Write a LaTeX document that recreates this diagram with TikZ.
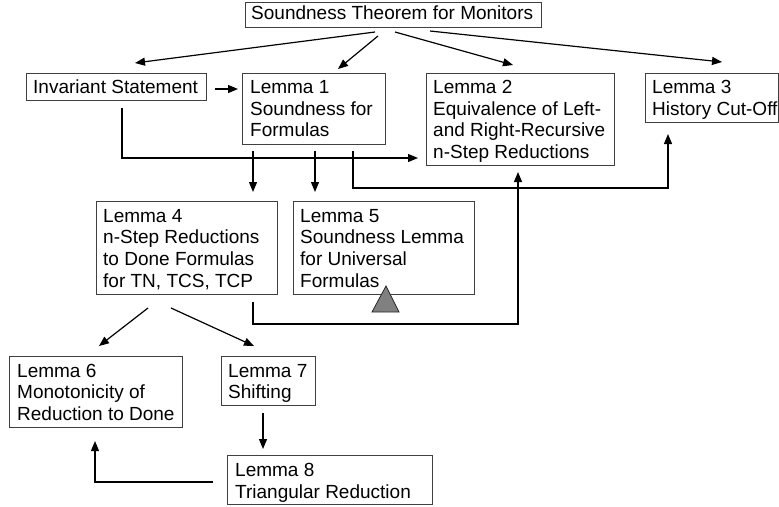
\documentclass[tikz,border=0pt]{standalone}
\usepackage{fontspec}
\setmainfont{Liberation Sans}
\usetikzlibrary{arrows.meta}
\tikzset{
  box/.style={draw=black!75, line width=0.8pt, inner sep=0pt, anchor=north west},
  txt/.style={anchor=north west, inner sep=0pt, align=left, font=\fontsize{19}{21.8}\selectfont},
  arr/.style={-{Triangle[length=10pt,width=8pt]}, line width=1.2pt},
  tri/.style={fill=black!50, draw=black!85, line width=0.8pt}
}
\begin{document}
\begin{tikzpicture}[x=1pt,y=-1pt]
\useasboundingbox (0,0) rectangle (779,506);
% boxes
\node[box, minimum width=296, minimum height=25] (thm) at (245,2) {};
\node[box, minimum width=180, minimum height=27] (inv) at (26,73) {};
\node[box, minimum width=143, minimum height=71] (l1) at (242,73) {};
\node[box, minimum width=188, minimum height=92] (l2) at (426,73) {};
\node[box, minimum width=133.3, minimum height=49] (l3) at (645,73) {};
\node[box, minimum width=181, minimum height=93] (l4) at (96,201) {};
\node[box, minimum width=181, minimum height=93] (l5) at (293,201) {};
\node[box, minimum width=173, minimum height=71] (l6) at (9,356) {};
\node[box, minimum width=94, minimum height=49] (l7) at (221,356) {};
\node[box, minimum width=205, minimum height=49] (l8) at (227,455) {};
% texts
\node[txt] (thmt) at (251,3.8) {\strut Soundness Theorem for Monitors};
\node[txt] (invt) at (33,78.4) {\strut Invariant Statement};
\node[txt] (l1t) at (250,77.8) {\strut Lemma 1\\Soundness for\\Formulas};
\node[txt] (l2t) at (433,77.8) {\strut Lemma 2\\Equivalence of Left-\\and Right-Recursive\\n-Step Reductions};
\node[txt] (l3t) at (652,77.8) {\strut Lemma 3\\History Cut-Off};
\node[txt] (l4t) at (103,206.6) {\strut Lemma 4\\n-Step Reductions\\to Done Formulas\\for TN, TCS, TCP};
\node[txt] (l5t) at (300,206.6) {\strut Lemma 5\\Soundness Lemma\\for Universal\\Formulas};
\node[txt] (l6t) at (17,361.6) {\strut Lemma 6\\Monotonicity of\\Reduction to Done};
\node[txt] (l7t) at (228,361.6) {\strut Lemma 7\\Shifting};
\node[txt] (l8t) at (235,461.2) {\strut Lemma 8\\Triangular Reduction};
% triangle
\draw[tri] (386,286) -- (372,312) -- (399,312) -- cycle;
% connector end points
\coordinate (a1s) at (375,32);  \coordinate (a1e) at (135,63);
\coordinate (a2s) at (378,36);  \coordinate (a2e) at (338,69);
\coordinate (a3s) at (395,32);  \coordinate (a3e) at (513,65);
\coordinate (a4s) at (430,31);  \coordinate (a4e) at (722,62);
\coordinate (a5s) at (215,89);  \coordinate (a5e) at (238,89);
\coordinate (a6s) at (122,108); \coordinate (a6e) at (418,158);
\coordinate (a7s) at (253,151); \coordinate (a7e) at (253,192);
\coordinate (a8s) at (315,151); \coordinate (a8e) at (315,192);
\coordinate (a9s) at (353,151); \coordinate (a9e) at (668,134);
\coordinate (a10s) at (253,302); \coordinate (a10e) at (518,172);
\coordinate (a11s) at (148,308); \coordinate (a11e) at (99,346);
\coordinate (a12s) at (171,308); \coordinate (a12e) at (254,346);
\coordinate (a13s) at (263,413); \coordinate (a13e) at (263,449);
\coordinate (a14s) at (213,482); \coordinate (a14e) at (95,441);
% connectors
\draw[arr] (a1s) -- (a1e);
\draw[arr] (a2s) -- (a2e);
\draw[arr] (a3s) -- (a3e);
\draw[arr] (a4s) -- (a4e);
\draw[arr] (a5s) -- (a5e);
\draw[arr] (a6s) |- (a6e);
\draw[arr] (a7s) -- (a7e);
\draw[arr] (a8s) -- (a8e);
\draw[arr] (a9s) -- (353,188) -| (a9e);
\draw[arr] (a10s) -- (253,324) -| (a10e);
\draw[arr] (a11s) -- (a11e);
\draw[arr] (a12s) -- (a12e);
\draw[arr] (a13s) -- (a13e);
\draw[arr] (a14s) -| (a14e);
\end{tikzpicture}
\end{document}
